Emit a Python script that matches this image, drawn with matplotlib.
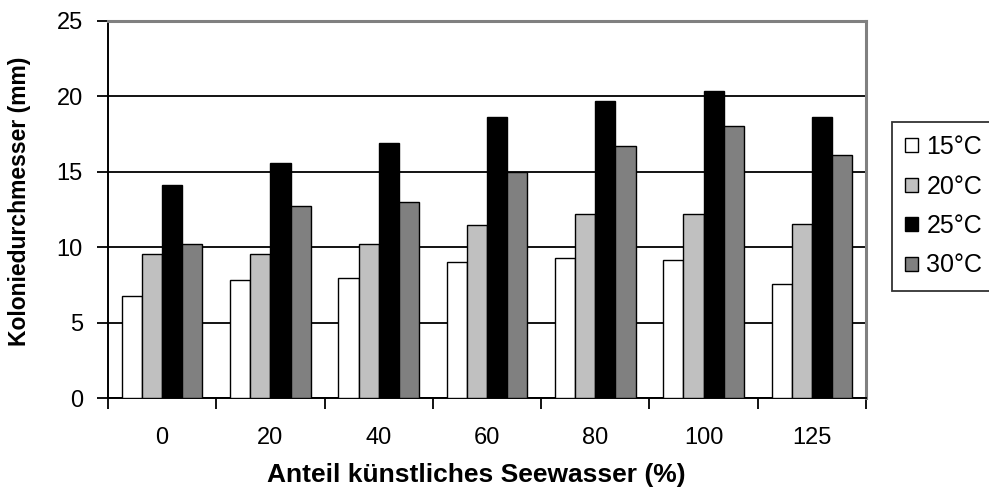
import matplotlib
matplotlib.use("Agg")
import matplotlib.pyplot as plt
import numpy as np

plt.rcParams['font.family'] = ['Liberation Sans', 'DejaVu Sans']

categories = ["0", "20", "40", "60", "80", "100", "125"]
series_labels = ["15°C", "20°C", "25°C", "30°C"]
t15 = [6.75, 7.8, 7.95, 9.0, 9.27, 9.12, 7.55]
t20 = [9.56, 9.56, 10.2, 11.44, 12.2, 12.2, 11.55]
t25 = [14.1, 15.56, 16.9, 18.6, 19.67, 20.34, 18.6]
t30 = [10.2, 12.72, 13.0, 14.96, 16.7, 18.03, 16.07]
y_ticks = [0, 5, 10, 15, 20, 25]

series = [t15, t20, t25, t30]
colors = ["#FFFFFF", "#C0C0C0", "#000000", "#808080"]

W, H = 989, 495
fig = plt.figure(figsize=(W / 100, H / 100), dpi=100)
ax_l, ax_r, ax_t, ax_b = 108, 866, 20.5, 398.3
ax = fig.add_axes([ax_l / W, 1 - ax_b / H, (ax_r - ax_l) / W, (ax_b - ax_t) / H])

x = np.arange(len(categories))
bw = 0.186
offsets = (np.arange(4) - 1.5) * bw
for vals, off, col, lab in zip(series, offsets, colors, series_labels):
    ax.bar(x + off, vals, width=bw, color=col, edgecolor="black", linewidth=1.0,
           label=lab, zorder=3)

ax.set_xlim(-0.5, len(categories) - 0.5)
ax.set_ylim(0, 25)
ax.set_yticks(y_ticks)
ax.yaxis.grid(True, color="black", linewidth=1.3, zorder=0)
ax.set_axisbelow(True)

# category ticks between groups, labels centred under groups
ax.set_xticks(np.arange(-0.5, len(categories), 1.0))
ax.set_xticklabels([])
ax.set_xticks(x, minor=True)
ax.set_xticklabels(categories, minor=True)
ax.tick_params(axis="x", which="major", direction="out", length=8, width=1.3, color="black")
ax.tick_params(axis="x", which="minor", length=0, pad=21, labelsize=17)
ax.tick_params(axis="y", direction="out", length=8, width=1.3, labelsize=17, pad=10)

for side in ("top", "right"):
    ax.spines[side].set_color("#808080")
    ax.spines[side].set_linewidth(2.2)
for side in ("left", "bottom"):
    ax.spines[side].set_color("black")
    ax.spines[side].set_linewidth(1.4)

ax.set_ylabel("Koloniedurchmesser (mm)", fontsize=16.5, fontweight="bold")
ax.yaxis.set_label_coords((31 - ax_l) / (ax_r - ax_l), (ax_b - 201) / (ax_b - ax_t))
ax.set_xlabel("Anteil künstliches Seewasser (%)", fontsize=19, fontweight="bold")
ax.xaxis.label.set_va("baseline")
ax.xaxis.set_label_coords((476 - ax_l) / (ax_r - ax_l), (ax_b - 482) / (ax_b - ax_t))

handles, labels = ax.get_legend_handles_labels()
leg = fig.legend(handles, labels, loc="upper left",
                 bbox_to_anchor=(892 / W, 1 - 122 / H),
                 fontsize=18, frameon=True, fancybox=False, edgecolor="black",
                 handlelength=0.5, handleheight=0.5, handletextpad=0.35,
                 labelspacing=0.62, borderpad=0.52, borderaxespad=0.0)
leg.get_frame().set_linewidth(1.3)

fig.savefig("out.png", dpi=100)
